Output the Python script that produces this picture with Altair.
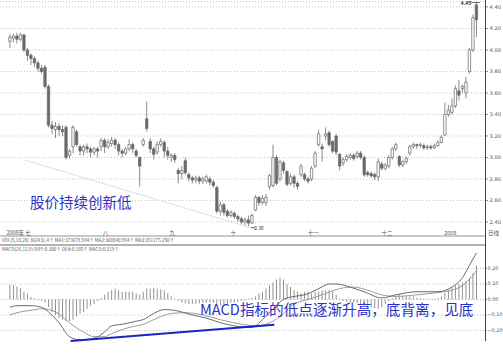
import altair as alt
import pandas as pd

# ---------------- data ----------------
opens = [4.08, 4.11, 4.13, 4.10, 4.14, 4.00, 3.95, 3.92, 3.88, 3.83,
         3.84, 3.66, 3.30, 3.26, 3.29, 3.26, 3.28, 3.02, 3.10, 3.24,
         3.10, 3.06, 3.10, 3.08, 3.05, 3.08, 3.10, 3.16, 3.10, 3.13,
         3.16, 3.12, 3.06, 3.04, 3.08, 3.12, 3.06, 3.00, 3.12, 3.36,
         3.15, 3.08, 3.05, 3.12, 3.14, 3.06, 3.00, 3.02, 2.88, 2.85,
         2.97, 2.84, 2.81, 2.79, 2.81, 2.78, 2.78, 2.80, 2.77, 2.72,
         2.50, 2.56, 2.50, 2.46, 2.48, 2.45, 2.43, 2.40, 2.42, 2.39,
         2.51, 2.63, 2.58, 2.58, 2.73, 2.74, 3.00, 2.80, 2.95, 2.87,
         2.76, 2.82, 2.76, 2.84, 2.84, 2.80, 2.80, 2.92, 3.12, 3.10,
         3.20, 3.23, 3.15, 3.20, 3.03, 2.95, 2.98, 3.00, 3.02, 3.01,
         3.04, 3.00, 2.86, 2.85, 2.84, 2.82, 2.94, 2.90, 2.92, 3.00,
         3.08, 3.01, 2.93, 2.96, 3.04, 3.10, 3.12, 3.11, 3.11, 3.09,
         3.10, 3.09, 3.11, 3.14, 3.21, 3.40, 3.42, 3.48, 3.62, 3.64,
         3.60, 3.80, 4.00, 4.42]
closes = [4.12, 4.13, 4.10, 4.14, 4.00, 3.95, 3.92, 3.88, 3.83, 3.80,
          3.66, 3.30, 3.27, 3.29, 3.26, 3.24, 3.00, 3.06, 3.28, 3.12,
          3.06, 3.10, 3.08, 3.05, 3.08, 3.06, 3.16, 3.10, 3.14, 3.16,
          3.12, 3.06, 3.04, 3.08, 3.12, 3.08, 3.02, 2.92, 3.16, 3.27,
          3.08, 3.03, 3.12, 3.15, 3.06, 3.02, 3.02, 2.98, 2.85, 2.88,
          2.86, 2.81, 2.79, 2.81, 2.78, 2.80, 2.82, 2.77, 2.74, 2.50,
          2.56, 2.49, 2.46, 2.49, 2.45, 2.43, 2.40, 2.42, 2.39, 2.46,
          2.63, 2.58, 2.62, 2.63, 2.83, 3.00, 2.76, 2.96, 2.88, 2.75,
          2.82, 2.76, 2.73, 2.92, 2.80, 2.78, 2.90, 3.04, 3.22, 3.08,
          3.22, 3.12, 3.06, 3.05, 2.92, 2.98, 3.01, 3.02, 2.99, 3.04,
          3.00, 2.84, 2.84, 2.83, 2.82, 2.96, 2.90, 2.93, 3.00, 3.08,
          3.12, 2.93, 2.96, 2.99, 3.10, 3.12, 3.11, 3.12, 3.09, 3.10,
          3.09, 3.11, 3.14, 3.19, 3.40, 3.44, 3.48, 3.64, 3.58, 3.66,
          3.70, 4.00, 4.30, 4.28]
highs = [4.15, 4.15, 4.16, 4.16, 4.15, 4.02, 3.97, 3.94, 3.90, 3.86,
         3.86, 3.68, 3.34, 3.33, 3.32, 3.30, 3.30, 3.08, 3.30, 3.26,
         3.12, 3.12, 3.13, 3.10, 3.10, 3.10, 3.18, 3.18, 3.17, 3.19,
         3.18, 3.14, 3.08, 3.10, 3.17, 3.14, 3.08, 3.01, 3.18, 3.52,
         3.18, 3.10, 3.15, 3.18, 3.16, 3.10, 3.04, 3.04, 2.90, 2.92,
         3.00, 2.86, 2.83, 2.83, 2.83, 2.82, 2.84, 2.82, 2.79, 2.74,
         2.59, 2.58, 2.52, 2.51, 2.50, 2.47, 2.45, 2.44, 2.46, 2.48,
         2.65, 2.64, 2.65, 2.66, 2.85, 3.12, 3.02, 2.98, 2.97, 2.88,
         2.85, 2.84, 2.78, 2.94, 2.86, 2.82, 2.92, 3.06, 3.26, 3.13,
         3.28, 3.25, 3.16, 3.22, 3.04, 3.00, 3.03, 3.04, 3.04, 3.06,
         3.06, 3.02, 2.88, 2.87, 2.86, 2.99, 2.96, 2.95, 3.02, 3.10,
         3.14, 3.02, 2.98, 3.01, 3.12, 3.14, 3.13, 3.14, 3.13, 3.12,
         3.12, 3.13, 3.16, 3.21, 3.51, 3.49, 3.55, 3.67, 3.72, 3.68,
         3.75, 4.02, 4.33, 4.45]
lows = [4.02, 4.07, 4.06, 4.08, 3.98, 3.90, 3.86, 3.84, 3.80, 3.78,
        3.64, 3.28, 3.22, 3.18, 3.20, 3.20, 2.98, 2.99, 3.04, 3.10,
        3.02, 3.02, 3.04, 3.00, 3.02, 3.00, 3.06, 3.04, 3.08, 3.10,
        3.08, 3.02, 3.00, 3.02, 3.06, 3.04, 3.00, 2.73, 3.10, 3.24,
        3.04, 2.98, 3.03, 3.10, 3.00, 2.98, 2.96, 2.95, 2.76, 2.80,
        2.84, 2.78, 2.76, 2.76, 2.75, 2.75, 2.76, 2.74, 2.72, 2.48,
        2.46, 2.46, 2.44, 2.44, 2.43, 2.40, 2.38, 2.37, 2.36, 2.38,
        2.50, 2.55, 2.56, 2.55, 2.70, 2.72, 2.74, 2.78, 2.85, 2.73,
        2.74, 2.72, 2.70, 2.82, 2.78, 2.76, 2.78, 2.90, 3.10, 2.96,
        3.16, 3.10, 3.04, 3.02, 2.88, 2.92, 2.96, 2.98, 2.97, 2.99,
        2.98, 2.82, 2.82, 2.81, 2.79, 2.78, 2.88, 2.88, 2.90, 2.98,
        3.06, 2.91, 2.91, 2.94, 3.02, 3.08, 3.08, 3.09, 3.07, 3.07,
        3.07, 3.08, 3.10, 3.13, 3.20, 3.38, 3.40, 3.46, 3.53, 3.60,
        3.55, 3.78, 3.98, 4.12]

macd_hist = [0.094, 0.094, 0.083, 0.072, 0.05, 0.039, 0.017, 0.007, -0.005, -0.01,
             -0.02, -0.05, -0.08, -0.10, -0.12, -0.13, -0.14, -0.14, -0.13, -0.11,
             -0.09, -0.08, -0.06, -0.04, -0.03, -0.01, 0.01, 0.03, 0.05, 0.06,
             0.07, 0.06, 0.05, 0.05, 0.05, 0.05, 0.04, 0.03, 0.05, 0.07,
             0.07, 0.075, 0.07, 0.065, 0.06, 0.04, 0.02, 0.005, -0.01, -0.02,
             -0.025, -0.03, -0.03, -0.03, -0.025, -0.02, -0.02, -0.02, -0.02, -0.03,
             -0.04, -0.03, -0.03, -0.02, -0.02, -0.015, -0.01, -0.005, 0.005, 0.01,
             0.02, 0.04, 0.05, 0.07, 0.09, 0.11, 0.13, 0.14, 0.13, 0.10,
             0.08, 0.06, 0.05, 0.04, 0.05, 0.05, 0.04, 0.05, 0.05, 0.06,
             0.06, 0.06, 0.05, 0.03, 0.005, -0.01, -0.015, -0.02, -0.02, -0.025,
             -0.03, -0.03, -0.04, -0.05, -0.055, -0.06, -0.05, -0.03, -0.01, 0.01,
             0.02, 0.03, 0.02, 0.02, 0.02, 0.02, 0.01, 0.01, 0.005, 0.005,
             0.005, 0.005, 0.01, 0.02, 0.04, 0.06, 0.08, 0.09, 0.10, 0.11,
             0.12, 0.14, 0.17, 0.219]

diff_idx = [0, 2, 6, 9, 11, 14, 17, 20, 24, 27, 29, 32, 36, 38, 41, 44, 47, 52, 56, 60,
            64, 69, 72, 75, 78, 81, 84, 88, 91, 93, 97, 101, 106, 110, 116, 122, 126, 129, 131, 133]
diff_val = [-0.05, -0.04, -0.04, -0.05, -0.08, -0.15, -0.24, -0.26, -0.25, -0.21,
            -0.17, -0.16, -0.14, -0.13, -0.09, -0.065, -0.07, -0.10, -0.12, -0.15,
            -0.17, -0.18, -0.13, -0.06, 0.00, 0.02, 0.03, 0.07, 0.10, 0.10,
            0.08, 0.05, 0.01, 0.03, 0.05, 0.05, 0.08, 0.14, 0.22, 0.30]
dea_idx = [0, 3, 6, 9, 13, 17, 21, 24, 27, 29, 34, 38, 42, 46, 50, 55, 60, 66, 70, 73,
           77, 81, 85, 89, 94, 98, 102, 106, 110, 116, 122, 126, 129, 131, 133]
dea_val = [-0.10, -0.08, -0.07, -0.06, -0.08, -0.15, -0.21, -0.24, -0.24, -0.22,
           -0.18, -0.16, -0.12, -0.09, -0.085, -0.10, -0.13, -0.16, -0.17, -0.16,
           -0.11, -0.03, 0.00, 0.03, 0.07, 0.08, 0.06, 0.03, 0.02, 0.03,
           0.045, 0.06, 0.09, 0.13, 0.185]

price_ticks = [4.4, 4.2, 4.0, 3.8, 3.6, 3.4, 3.2, 3.0, 2.8, 2.6, 2.4]
macd_ticks = [0.2, 0.1, 0.0, -0.1, -0.2]

month_labels = ["2008年 七", "八", "九", "十", "十一", "十二", "2009"]
month_idx = [-1.0, 26.5, 45.5, 62.9, 84.9, 105.9, 123.8]

# trend lines drawn on the picture (in data units)
price_trend_idx = [4.2, 69.9]
price_trend_val = [2.977, 2.335]
macd_trend_idx = [17.3, 75.4]
macd_trend_val = [-0.268, -0.163]

label_price = "股价持续创新低"
label_macd = "MACD指标的低点逐渐升高，底背离，见底"
vol_header = "VOL(5,10,20) 362431.4↑ MA1:373678.594↑ MA2:368840.594↑ MA3:251175.250↑"
macd_header = "MACD(26,12,9) DIFF:0.300↑ DEA:0.185↑ MACD:0.219↑"

# ---------------- frames ----------------
n = len(opens)
df = pd.DataFrame({"i": list(range(n)), "open": opens, "close": closes,
                   "high": highs, "low": lows, "h": macd_hist})
df["up"] = df["close"] >= df["open"]
diff_df = pd.DataFrame({"i": diff_idx, "v": diff_val})
dea_df = pd.DataFrame({"i": dea_idx, "v": dea_val})
pt_df = pd.DataFrame({"p": price_ticks})
mt_df = pd.DataFrame({"v": macd_ticks})
month_df = pd.DataFrame({"i": month_idx, "t": month_labels})
ptr_df = pd.DataFrame({"i": price_trend_idx, "p": price_trend_val})
mtr_df = pd.DataFrame({"i": macd_trend_idx, "v": macd_trend_val})

FONT = "Noto Sans CJK SC"
W, H = 503, 354
xs = alt.Scale(domain=[-1.39706, 139.147], nice=False, zero=False)
ps = alt.Scale(domain=[1.1721, 4.4651], nice=False, zero=False)
ms = alt.Scale(domain=[-0.3516, 1.9323], nice=False, zero=False)

X = alt.X("i:Q", scale=xs, axis=None)
one = pd.DataFrame({"t": [""]})

def txt(s, x, y, size, color, align="left", weight="normal"):
    return alt.Chart(pd.DataFrame({"t": [s]})).mark_text(
        align=align, baseline="middle", fontSize=size, color=color,
        font=FONT, fontWeight=weight).encode(
        text="t:N", x=alt.value(x), y=alt.value(y))

def hline(y, x1, x2, color, w=1, dash=None):
    kw = dict(color=color, strokeWidth=w)
    if dash:
        kw["strokeDash"] = dash
    return alt.Chart(one).mark_rule(**kw).encode(
        x=alt.value(x1), x2=alt.value(x2), y=alt.value(y))

# price panel
p_grid = alt.Chart(pt_df).mark_rule(color="#b5b5b5", strokeWidth=0.8, strokeDash=[1, 2]).encode(
    y=alt.Y("p:Q", scale=ps, axis=None), x=alt.value(0), x2=alt.value(485))
p_ticks = alt.Chart(pt_df).mark_rule(color="#666", strokeWidth=0.8).encode(
    y=alt.Y("p:Q", scale=ps, axis=None), x=alt.value(485), x2=alt.value(488))
p_labels = alt.Chart(pt_df).mark_text(align="left", baseline="middle", fontSize=5.2,
                                      color="#555", font="DejaVu Sans").encode(
    y=alt.Y("p:Q", scale=ps, axis=None), x=alt.value(489.5), text=alt.Text("p:Q", format=".2f"))
wicks = alt.Chart(df).mark_rule(color="#6e6e6e", strokeWidth=0.8).encode(
    x=X, y=alt.Y("low:Q", scale=ps, axis=None), y2="high:Q")
bodies = alt.Chart(df).mark_bar(size=2.4, stroke="#666", strokeWidth=0.7).encode(
    x=X, y=alt.Y("open:Q", scale=ps, axis=None), y2="close:Q",
    fill=alt.condition("datum.up", alt.value("white"), alt.value("#6a6a6a")))
p_trend = alt.Chart(ptr_df).mark_line(color="#dcdff2", strokeWidth=1).encode(
    x=X, y=alt.Y("p:Q", scale=ps, axis=None))

# macd panel
m_grid = alt.Chart(mt_df).mark_rule(color="#b5b5b5", strokeWidth=0.8, strokeDash=[1, 2]).encode(
    y=alt.Y("v:Q", scale=ms, axis=None), x=alt.value(0), x2=alt.value(485))
m_ticks = alt.Chart(mt_df).mark_rule(color="#666", strokeWidth=0.8).encode(
    y=alt.Y("v:Q", scale=ms, axis=None), x=alt.value(485), x2=alt.value(487))
m_labels = alt.Chart(mt_df).mark_text(align="left", baseline="middle", fontSize=4.9,
                                      color="#555", font="DejaVu Sans").encode(
    y=alt.Y("v:Q", scale=ms, axis=None), x=alt.value(487.5), text=alt.Text("v:Q", format=".2f"))
hist = alt.Chart(df).mark_rule(color="#909090", strokeWidth=1).encode(
    x=X, y=alt.Y("h:Q", scale=ms, axis=None), y2=alt.datum(0))
diff_line = alt.Chart(diff_df).mark_line(color="#6a6a6a", strokeWidth=1, interpolate="monotone").encode(
    x=X, y=alt.Y("v:Q", scale=ms, axis=None))
dea_line = alt.Chart(dea_df).mark_line(color="#9a9a9a", strokeWidth=1, interpolate="monotone").encode(
    x=X, y=alt.Y("v:Q", scale=ms, axis=None))
m_trend = alt.Chart(mtr_df).mark_line(color="#1c24c4", strokeWidth=2).encode(
    x=X, y=alt.Y("v:Q", scale=ms, axis=None))

# time axis labels
months = alt.Chart(month_df).mark_text(align="left", baseline="bottom", fontSize=5.5,
                                       color="#555", font=FONT).encode(
    x=X, y=alt.value(235.5), text="t:N")

layers = [
    p_grid, p_trend, wicks, bodies, p_ticks, p_labels,
    m_grid, hist, dea_line, diff_line, m_ticks, m_labels, m_trend,
    hline(1.5, 0, 485, "#bdbdbd", 0.8, [1, 2]),
    hline(236, 0, 485, "#777", 0.8),
    hline(245, 0, 485, "#555", 0.9),
    alt.Chart(one).mark_rule(color="#444", strokeWidth=1).encode(
        x=alt.value(485.5), y=alt.value(0), y2=alt.value(341)),
    months,
    txt("日线", 488, 233, 5.5, "#555"),
    txt(vol_header, 2, 241, 4.6, "#555"),
    txt(macd_header, 2, 249.5, 4.6, "#555"),
    txt("4.45", 466, 3, 5, "#333", align="center", weight="bold"),
    hline(2.5, 471, 480, "#555", 0.8),
    txt("2.36", 259, 227.5, 5, "#333", align="center"),
    hline(227.5, 251, 255, "#555", 0.8),
    txt(label_price, 30, 204, 14.5, "#2a32c8"),
    txt(label_macd, 200, 311, 14.6, "#2a2fc6"),
]

chart = alt.layer(*layers).resolve_scale(y="independent").properties(
    width=W, height=H, padding=0, autosize=alt.AutoSizeParams(type="none"),
    background="white"
).configure_view(stroke=None)

chart.save("out.html", embed_options={"renderer": "svg", "actions": False})
